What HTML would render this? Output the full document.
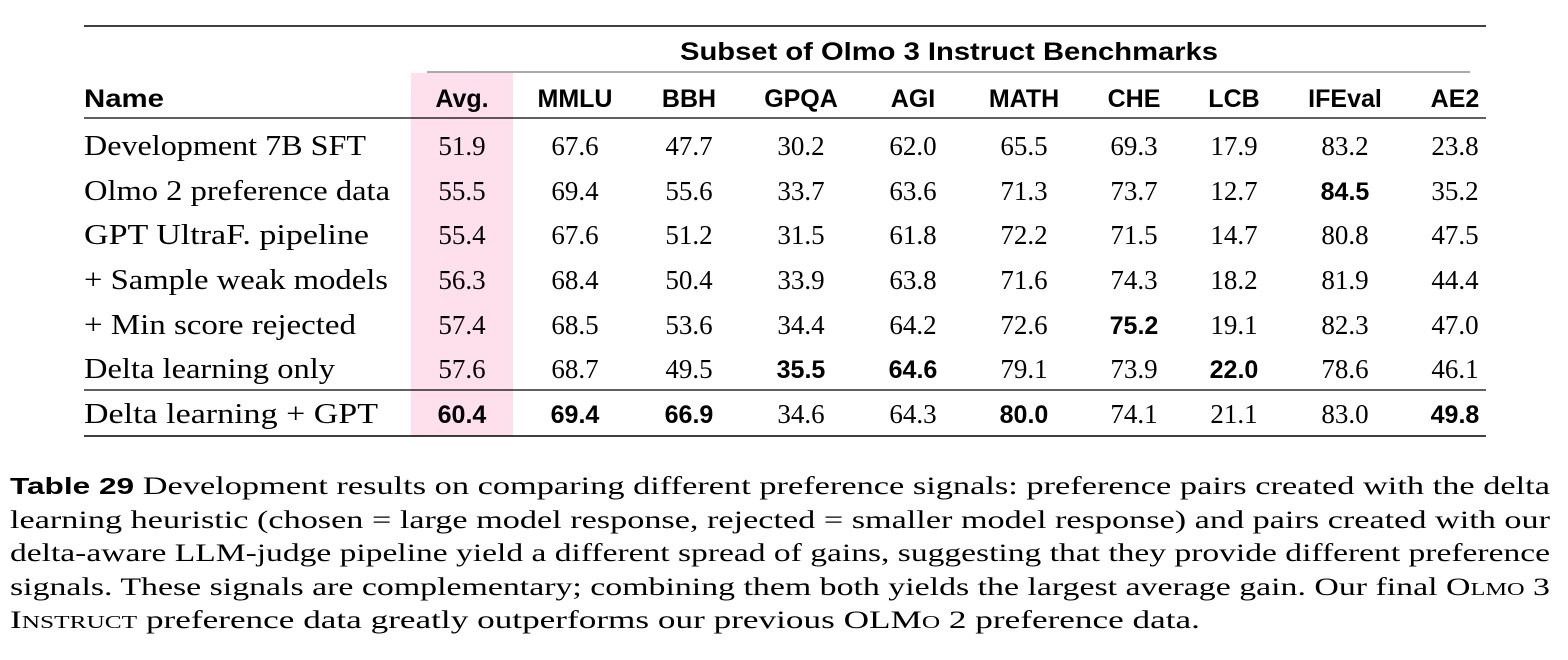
<!DOCTYPE html>
<html><head><meta charset="utf-8"><style>
html,body{margin:0;padding:0;background:#fff;}
svg{display:block}
.s{font-family:"Liberation Sans",sans-serif;font-weight:bold;font-size:25px}
.r{font-family:"Liberation Serif",serif;font-size:27px}
.c{font-family:"Liberation Serif",serif;font-size:25px}
</style></head><body>
<svg width="1568" height="660" xmlns="http://www.w3.org/2000/svg">
<rect x="411" y="73" width="102" height="363" fill="#fde0ec"/>
<line x1="84" y1="26" x2="1486" y2="26" stroke="#000" stroke-width="1.6"/>
<line x1="427" y1="72" x2="1470" y2="72" stroke="#555" stroke-width="1"/>
<line x1="84" y1="118" x2="1486" y2="118" stroke="#000" stroke-width="1.2"/>
<line x1="84" y1="390" x2="1486" y2="390" stroke="#000" stroke-width="1.2"/>
<line x1="84" y1="436" x2="1486" y2="436" stroke="#000" stroke-width="1.6"/>
<text class="s" x="680" y="60" textLength="538" lengthAdjust="spacingAndGlyphs">Subset of Olmo 3 Instruct Benchmarks</text>
<text class="s" x="84" y="107" textLength="80" lengthAdjust="spacingAndGlyphs">Name</text>
<g class="s" text-anchor="middle">
<text x="462" y="107">Avg.</text><text x="575" y="107">MMLU</text><text x="689" y="107">BBH</text><text x="801" y="107">GPQA</text><text x="913" y="107">AGI</text><text x="1024" y="107">MATH</text><text x="1134" y="107">CHE</text><text x="1234" y="107">LCB</text><text x="1345" y="107">IFEval</text><text x="1455" y="107">AE2</text>
</g>
<g class="r" style="font-size:28px">
<text x="84" y="155" textLength="282" lengthAdjust="spacingAndGlyphs">Development 7B SFT</text>
<text x="84" y="200" textLength="306" lengthAdjust="spacingAndGlyphs">Olmo 2 preference data</text>
<text x="84" y="244" textLength="285" lengthAdjust="spacingAndGlyphs">GPT UltraF. pipeline</text>
<text x="84" y="289" textLength="304" lengthAdjust="spacingAndGlyphs">+ Sample weak models</text>
<text x="84" y="334" textLength="272" lengthAdjust="spacingAndGlyphs">+ Min score rejected</text>
<text x="84" y="378" textLength="251" lengthAdjust="spacingAndGlyphs">Delta learning only</text>
<text x="84" y="423" textLength="294" lengthAdjust="spacingAndGlyphs">Delta learning + GPT</text>
</g>
<g class="r" text-anchor="middle">
<text x="462" y="155">51.9</text><text x="575" y="155">67.6</text><text x="689" y="155">47.7</text><text x="801" y="155">30.2</text><text x="913" y="155">62.0</text><text x="1024" y="155">65.5</text><text x="1134" y="155">69.3</text><text x="1234" y="155">17.9</text><text x="1345" y="155">83.2</text><text x="1455" y="155">23.8</text>
<text x="462" y="200">55.5</text><text x="575" y="200">69.4</text><text x="689" y="200">55.6</text><text x="801" y="200">33.7</text><text x="913" y="200">63.6</text><text x="1024" y="200">71.3</text><text x="1134" y="200">73.7</text><text x="1234" y="200">12.7</text><text class="s" x="1345" y="200">84.5</text><text x="1455" y="200">35.2</text>
<text x="462" y="244">55.4</text><text x="575" y="244">67.6</text><text x="689" y="244">51.2</text><text x="801" y="244">31.5</text><text x="913" y="244">61.8</text><text x="1024" y="244">72.2</text><text x="1134" y="244">71.5</text><text x="1234" y="244">14.7</text><text x="1345" y="244">80.8</text><text x="1455" y="244">47.5</text>
<text x="462" y="289">56.3</text><text x="575" y="289">68.4</text><text x="689" y="289">50.4</text><text x="801" y="289">33.9</text><text x="913" y="289">63.8</text><text x="1024" y="289">71.6</text><text x="1134" y="289">74.3</text><text x="1234" y="289">18.2</text><text x="1345" y="289">81.9</text><text x="1455" y="289">44.4</text>
<text x="462" y="334">57.4</text><text x="575" y="334">68.5</text><text x="689" y="334">53.6</text><text x="801" y="334">34.4</text><text x="913" y="334">64.2</text><text x="1024" y="334">72.6</text><text class="s" x="1134" y="334">75.2</text><text x="1234" y="334">19.1</text><text x="1345" y="334">82.3</text><text x="1455" y="334">47.0</text>
<text x="462" y="378">57.6</text><text x="575" y="378">68.7</text><text x="689" y="378">49.5</text><text class="s" x="801" y="378">35.5</text><text class="s" x="913" y="378">64.6</text><text x="1024" y="378">79.1</text><text x="1134" y="378">73.9</text><text class="s" x="1234" y="378">22.0</text><text x="1345" y="378">78.6</text><text x="1455" y="378">46.1</text>
<text class="s" x="462" y="423">60.4</text><text class="s" x="575" y="423">69.4</text><text class="s" x="689" y="423">66.9</text><text x="801" y="423">34.6</text><text x="913" y="423">64.3</text><text class="s" x="1024" y="423">80.0</text><text x="1134" y="423">74.1</text><text x="1234" y="423">21.1</text><text x="1345" y="423">83.0</text><text class="s" x="1455" y="423">49.8</text>
</g>
<g class="c">
<text x="10" y="494" textLength="1540" lengthAdjust="spacingAndGlyphs"><tspan class="s" style="font-size:23px">Table 29</tspan>  Development results on comparing different preference signals: preference pairs created with the delta</text>
<text x="10" y="528" textLength="1540" lengthAdjust="spacingAndGlyphs">learning heuristic (chosen = large model response, rejected = smaller model response) and pairs created with our</text>
<text x="10" y="561" textLength="1540" lengthAdjust="spacingAndGlyphs">delta-aware LLM-judge pipeline yield a different spread of gains, suggesting that they provide different preference</text>
<text x="10" y="595" textLength="1540" lengthAdjust="spacingAndGlyphs">signals. These signals are complementary; combining them both yields the largest average gain. Our final <tspan style="font-variant:small-caps">Olmo 3</tspan></text>
<text x="10" y="628" textLength="1190" lengthAdjust="spacingAndGlyphs"><tspan style="font-variant:small-caps">Instruct</tspan> preference data greatly outperforms our previous <tspan style="font-variant:small-caps">OLMo 2</tspan> preference data.</text>
</g>
</svg>
</body></html>
